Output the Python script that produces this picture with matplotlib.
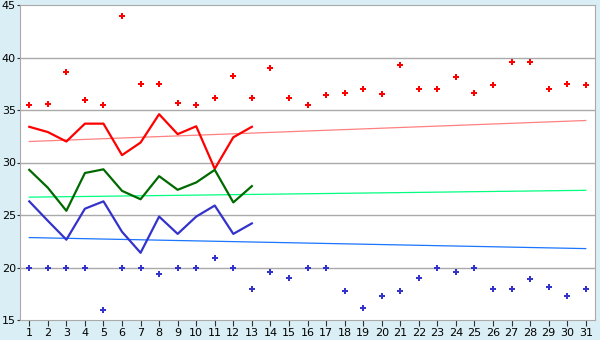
import numpy as np
import matplotlib
matplotlib.use('Agg')
from matplotlib import pyplot as plt

days = list(range(1, 32))

max_pts = [35.5, 35.6, 38.6, 36.0, 35.45, 44.0, 37.5, 37.5, 35.7, 35.45,
           36.1, 38.2, 36.1, 39.0, 36.1, 35.5, 36.4, 36.6, 37.0, 36.5, 39.25,
           37.0, 37.0, 38.1, 36.6, 37.35, 39.6, 39.6, 37.0, 37.45, 37.35]
min_pts = [20.0, 20.0, 20.0, 20.0, 16.0, 20.0, 20.0, 19.35, 20.0, 20.0,
           20.9, 20.0, 18.0, 19.6, 19.0, 20.0, 20.0, 17.8, 16.1, 17.25, 17.8,
           19.0, 20.0, 19.6, 20.0, 18.0, 18.0, 18.9, 18.1, 17.25, 18.0]

line_days = list(range(1, 14))
red_line = [33.4, 32.9, 32.0, 33.7, 33.7, 30.7, 31.9, 34.6, 32.7, 33.45, 29.4, 32.4, 33.4]
green_line = [29.3, 27.6, 25.4, 29.0, 29.35, 27.3, 26.5, 28.7, 27.4, 28.1, 29.3, 26.2, 27.75]
blue_line = [26.3, 24.45, 22.65, 25.6, 26.3, 23.4, 21.4, 24.85, 23.2, 24.85, 25.9, 23.2, 24.2]

# trend lines: (value at day 1, value at day 31)
red_trend = [32.0, 34.0]
green_trend = [26.7, 27.35]
blue_trend = [22.85, 21.8]
trend_days = [1, 31]

fig = plt.figure(figsize=(6, 3.4), dpi=100)
fig.patch.set_facecolor('#daeef5')
ax = fig.add_axes([20/600, 20/340, 575/600, 315/340])
ax.set_facecolor('white')

for y in range(20, 45, 5):
    ax.axhline(y, color='#aaaaaa', lw=1.0, zorder=0)

ax.plot(trend_days, red_trend, color='#ff8080', lw=0.9)
ax.plot(trend_days, green_trend, color='#00ff80', lw=0.9)
ax.plot(trend_days, blue_trend, color='#1a75ff', lw=0.9)

ax.plot(line_days, red_line, color='#ff0000', lw=1.6)
ax.plot(line_days, green_line, color='#006a00', lw=1.6)
ax.plot(line_days, blue_line, color='#3333cc', lw=1.6)

ax.plot(days, max_pts, 'P', color='#ff0000', ms=5, mew=0)
ax.plot(days, min_pts, 'P', color='#3333cc', ms=5, mew=0)

ax.set_xlim(0.5, 31.5)
ax.set_ylim(15, 45)
ax.set_xticks(days)
ax.set_yticks(range(15, 50, 5))
for s in ax.spines.values():
    s.set_color('#aaaaaa')
ax.tick_params(colors='#333333', labelcolor='black', labelsize=8)
ax.tick_params(axis='x', pad=2, length=4)
ax.tick_params(axis='y', pad=1, length=2)

fig.savefig('out.png', dpi=100, facecolor=fig.get_facecolor())
